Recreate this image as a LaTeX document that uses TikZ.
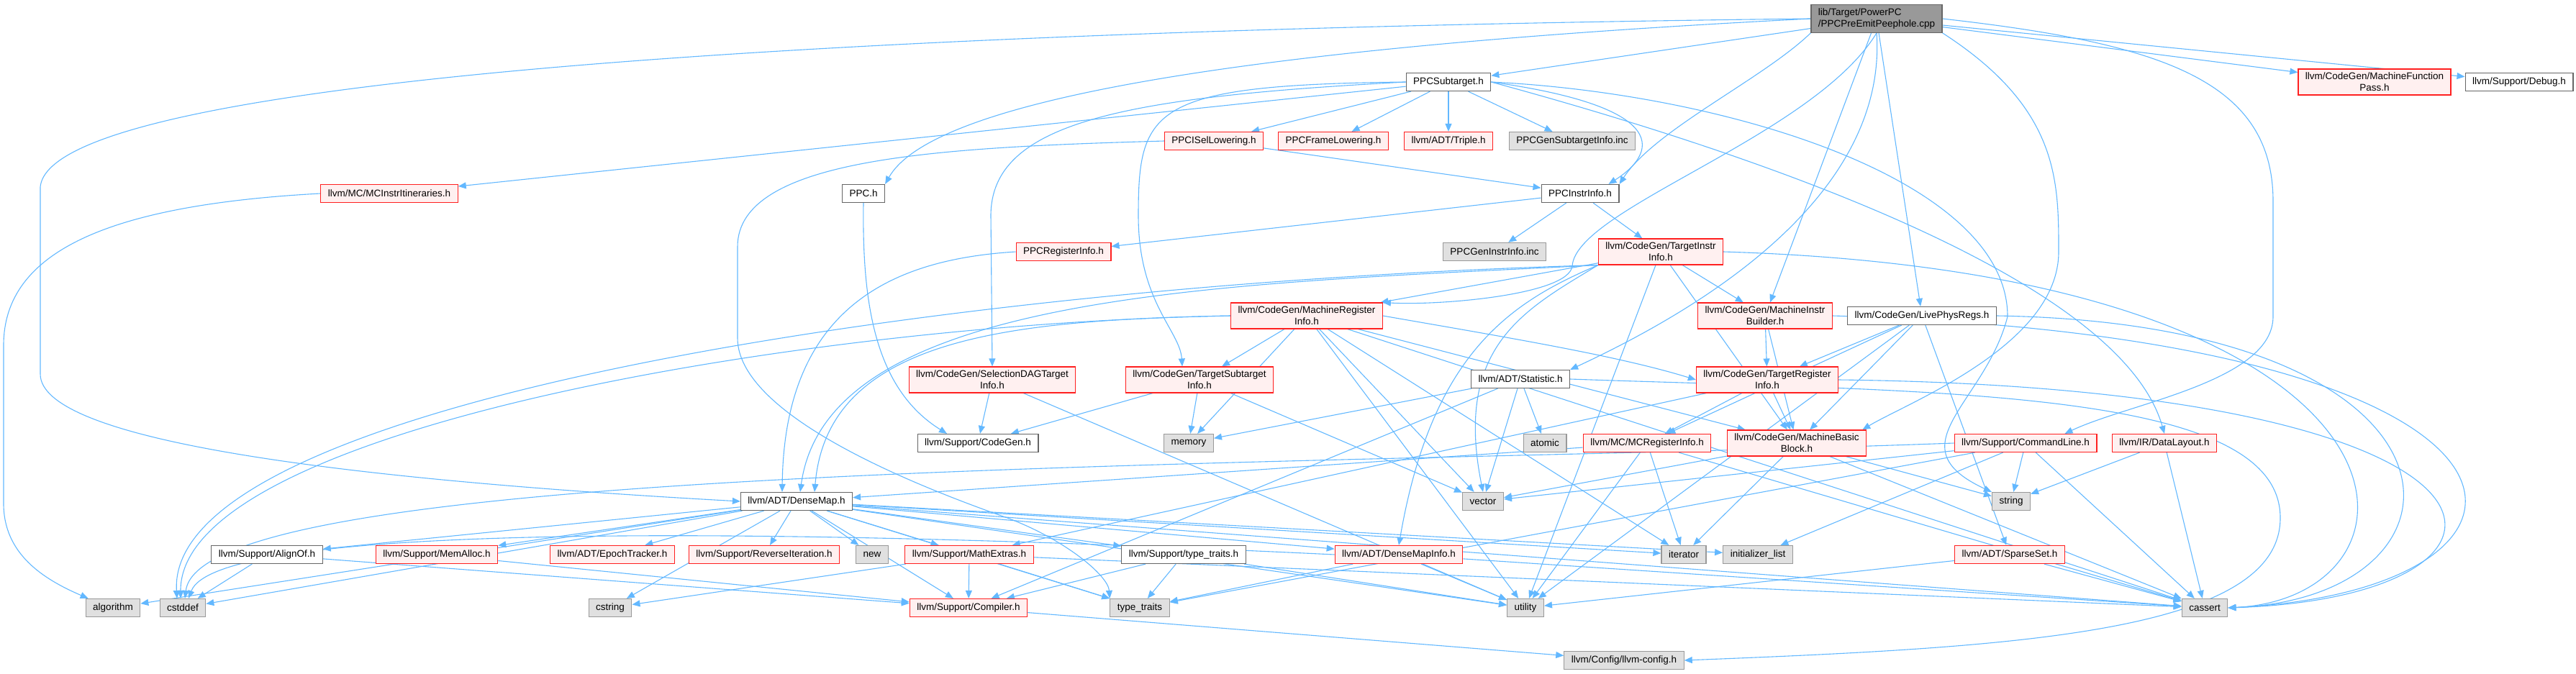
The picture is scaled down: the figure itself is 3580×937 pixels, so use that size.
\documentclass[tikz,border=0pt]{standalone}
\usepackage{fontspec}
\setmainfont{Liberation Sans}
\usepackage{xcolor}
\definecolor{depBlue}{HTML}{63B8FF}
\definecolor{cutRed}{HTML}{FF2020}
\definecolor{cutFill}{HTML}{FFF0F0}
\definecolor{sysFill}{HTML}{E0E0E0}
\definecolor{sysBorder}{HTML}{999999}
\definecolor{fileBorder}{HTML}{666666}
\definecolor{rootFill}{HTML}{999999}
\usetikzlibrary{arrows.meta,backgrounds}
\tikzset{
  >={Triangle[length=11pt,width=9pt]},
  every picture/.append style={font=\fontsize{13.5}{16}\selectfont},
  file/.style={rectangle,draw=fileBorder,fill=white,line width=1.2pt,inner xsep=10pt,inner ysep=5pt,minimum height=25pt,align=center},
  cutfile/.style={file,draw=cutRed,fill=cutFill},
  sysfile/.style={file,draw=sysBorder,fill=sysFill},
  rootfile/.style={file,fill=rootFill,align=left},
  dep/.style={->,draw=depBlue,line width=1.1pt},
}

\begin{document}
\begin{tikzpicture}[x=1pt,y=1pt]
  \useasboundingbox (0,0) rectangle (3580,-937);

  \node[rootfile] (peephole) at (2608,-26) {lib/Target/PowerPC\\/PPCPreEmitPeephole.cpp};

  \node[file]    (subtarget) at (2013,-114) {PPCSubtarget.h};
  \node[cutfile] (mfpass)    at (3300,-114) {llvm/CodeGen/MachineFunction\\Pass.h};
  \node[file]    (debug)     at (3501,-114) {llvm/Support/Debug.h};

  \node[cutfile] (isel)      at (1687,-196) {PPCISelLowering.h};
  \node[cutfile] (framelow)  at (1853,-196) {PPCFrameLowering.h};
  \node[cutfile] (triple)    at (2013,-196) {llvm/ADT/Triple.h};
  \node[sysfile] (gensub)    at (2185,-196) {PPCGenSubtargetInfo.inc};

  \node[cutfile] (itin)      at (541,-269)  {llvm/MC/MCInstrItineraries.h};
  \node[file]    (ppc)       at (1200,-269) {PPC.h};
  \node[file]    (instrinfo) at (2196,-269) {PPCInstrInfo.h};

  \node[cutfile] (reginfo)   at (1478,-350) {PPCRegisterInfo.h};
  \node[sysfile] (geninstr)  at (2077,-350) {PPCGenInstrInfo.inc};
  \node[cutfile] (tii)       at (2308,-350) {llvm/CodeGen/TargetInstr\\Info.h};

  \node[cutfile] (mri)       at (1816,-439) {llvm/CodeGen/MachineRegister\\Info.h};
  \node[cutfile] (mib)       at (2453,-439) {llvm/CodeGen/MachineInstr\\Builder.h};
  \node[file]    (livephys)  at (2671,-439) {llvm/CodeGen/LivePhysRegs.h};

  \node[cutfile] (sdag)      at (1379,-528) {llvm/CodeGen/SelectionDAGTarget\\Info.h};
  \node[cutfile] (tsi)       at (1667,-528) {llvm/CodeGen/TargetSubtarget\\Info.h};
  \node[file]    (statistic) at (2113,-527) {llvm/ADT/Statistic.h};
  \node[cutfile] (tri)       at (2456,-528) {llvm/CodeGen/TargetRegister\\Info.h};

  \node[file]    (codegen)   at (1359,-616) {llvm/Support/CodeGen.h};
  \node[sysfile] (memory)    at (1652,-616) {memory};
  \node[sysfile] (atomic)    at (2147,-616) {atomic};
  \node[cutfile] (mcreg)     at (2289,-616) {llvm/MC/MCRegisterInfo.h};
  \node[cutfile] (mbb)       at (2497,-616) {llvm/CodeGen/MachineBasic\\Block.h};
  \node[cutfile] (cmdline)   at (2815,-616) {llvm/Support/CommandLine.h};
  \node[cutfile] (datalayout) at (3008,-616) {llvm/IR/DataLayout.h};

  \node[file]    (densemap)  at (1107,-697) {llvm/ADT/DenseMap.h};
  \node[sysfile] (vector)    at (2061,-697) {vector};
  \node[sysfile] (string)    at (2795,-697) {string};

  \node[file]    (alignof)   at (371,-771)  {llvm/Support/AlignOf.h};
  \node[cutfile] (memalloc)  at (607,-771)  {llvm/Support/MemAlloc.h};
  \node[cutfile] (epoch)     at (851,-771)  {llvm/ADT/EpochTracker.h};
  \node[cutfile] (reviter)   at (1062,-771) {llvm/Support/ReverseIteration.h};
  \node[sysfile] (new)       at (1212,-771) {new};
  \node[cutfile] (mathext)   at (1347,-771) {llvm/Support/MathExtras.h};
  \node[file]    (typetr)    at (1645,-771) {llvm/Support/type\_traits.h};
  \node[cutfile] (dmi)       at (1944,-771) {llvm/ADT/DenseMapInfo.h};
  \node[sysfile] (iterator)  at (2340,-771) {iterator};
  \node[sysfile] (initlist)  at (2443,-771) {initializer\_list};
  \node[cutfile] (sparseset) at (2793,-771) {llvm/ADT/SparseSet.h};

  \node[sysfile] (algorithm) at (157,-845)  {algorithm};
  \node[sysfile] (cstddef)   at (254,-845)  {cstddef};
  \node[sysfile] (cstring)   at (848,-845)  {cstring};
  \node[cutfile] (compiler)  at (1346,-845) {llvm/Support/Compiler.h};
  \node[sysfile] (stdtraits) at (1584,-845) {type\_traits};
  \node[sysfile] (utility)   at (2120,-845) {utility};
  \node[sysfile] (cassert)   at (3064,-845) {cassert};

  \node[sysfile] (config)    at (2257,-918) {llvm/Config/llvm-config.h};

  \begin{scope}[on background layer]
    \foreach \a/\b in {peephole/subtarget, peephole/livephys, peephole/mib, peephole/mfpass, peephole/debug,
        subtarget/itin, subtarget/isel, subtarget/framelow, subtarget/triple, subtarget/gensub,
        isel/instrinfo, instrinfo/reginfo, instrinfo/geninstr, instrinfo/tii,
        tii/mri, tii/mib, tii/mbb, tii/utility,
        mri/mbb, mri/tsi, mri/memory, mri/vector, mri/utility, mri/iterator, mri/cassert,
        mib/mbb, mib/tri,
        livephys/mbb, livephys/tri, livephys/mcreg, livephys/sparseset, livephys/utility,
        tri/mbb, tri/mcreg, tri/mathext,
        mbb/iterator, mbb/string, mbb/vector, mbb/cassert,
        mcreg/densemap, mcreg/iterator, mcreg/utility, mcreg/cassert,
        cmdline/string, cmdline/vector, cmdline/initlist, cmdline/cassert, cmdline/stdtraits,
        datalayout/string, datalayout/cassert, sparseset/utility, sparseset/cassert,
        statistic/atomic, statistic/memory, statistic/vector, statistic/compiler,
        sdag/codegen, sdag/utility, tsi/codegen, tsi/memory, tsi/vector,
        densemap/alignof, densemap/memalloc, densemap/epoch, densemap/reviter, densemap/new,
        densemap/mathext, densemap/typetr, densemap/dmi, densemap/iterator, densemap/initlist,
        densemap/algorithm, densemap/cstddef, densemap/cstring, densemap/compiler,
        densemap/stdtraits, densemap/utility, densemap/cassert,
        dmi/cassert, dmi/stdtraits, dmi/utility,
        alignof/cstddef, alignof/compiler, memalloc/compiler,
        mathext/compiler, mathext/stdtraits, mathext/cstring, mathext/cassert,
        typetr/stdtraits, typetr/utility, typetr/compiler, compiler/config}
      \draw[dep] (\a) -- (\b);

    % routed edges
    \draw[dep] (peephole.west) .. controls (1300,-40) and (70,-100) .. (56,-260)
      -- (56,-520) .. controls (56,-610) and (450,-665) .. (densemap.west);
    \draw[dep] (peephole.west) .. controls (1650,-70) and (1290,-150) .. (ppc.north east);
    \draw[dep] (peephole.south west) .. controls (2450,-110) and (2300,-180) .. (instrinfo.north east);
    \draw[dep] (peephole.south) .. controls (2520,-190) and (2190,-290) .. (2185,-370)
      .. controls (2180,-410) and (2000,-425) .. (mri.north east);
    \draw[dep] (peephole.south) .. controls (2620,-220) and (2470,-380) .. (statistic.north east);
    \draw[dep] (peephole.south east) .. controls (2861,-150) and (2861,-250) .. (2861,-350)
      .. controls (2861,-480) and (2650,-560) .. ([xshift=-6pt]mbb.north east);
    \draw[dep] (peephole.east) .. controls (3000,-60) and (3159,-110) .. (3159,-280)
      -- (3159,-440) .. controls (3159,-530) and (2960,-560) .. ([xshift=-45pt]cmdline.north east);

    \draw[dep] (subtarget.east) .. controls (2330,-150) and (2300,-215) .. ([xshift=-15pt]instrinfo.north east);
    \draw[dep] (subtarget.west) .. controls (1560,-135) and (1377,-170) .. (1377,-300) -- (sdag.north);
    \draw[dep] (subtarget.west) .. controls (1600,-118) and (1582,-150) .. (1582,-300)
      .. controls (1582,-420) and (1640,-460) .. ([xshift=-24pt]tsi.north);
    \draw[dep] (subtarget.east) .. controls (2500,-230) and (2950,-400) .. (datalayout.north);
    \draw[dep] (subtarget.east) .. controls (2400,-130) and (2790,-250) .. (2790,-440)
      .. controls (2760,-560) and (2630,-620) .. (string.north west);

    \draw[dep] (itin.west) .. controls (150,-285) and (5,-350) .. (5,-480)
      -- (5,-700) .. controls (5,-770) and (60,-805) .. ([xshift=4pt]algorithm.north west);
    \draw[dep] (ppc.south) .. controls (1198,-420) and (1215,-540) .. ([xshift=-43pt]codegen.north);
    \draw[dep] (isel.west) .. controls (1300,-205) and (1025,-220) .. (1025,-343) -- (1025,-470)
      .. controls (1025,-560) and (1200,-650) .. (1400,-720)
      .. controls (1480,-750) and (1540,-800) .. (stdtraits.north west);
    \draw[dep] (reginfo.west) .. controls (1250,-360) and (1090,-420) .. ([xshift=-20pt]densemap.north);
    \draw[dep] (tii.south west) .. controls (1700,-395) and (1150,-405) .. ([xshift=5pt]densemap.north);
    \draw[dep] (mri.west) .. controls (1400,-445) and (1150,-470) .. ([xshift=25pt]densemap.north);
    \draw[dep] (mri.east) .. controls (2100,-470) and (2250,-495) .. (tri.west);
    \draw[dep] (tii.south west) .. controls (2120,-430) and (2020,-480) .. (vector.north);
    \draw[dep] (tii.south west) .. controls (2100,-420) and (1990,-490) .. (dmi.north);
    \draw[dep] (statistic.east) .. controls (2700,-545) and (3169,-540) .. (3169,-720)
      .. controls (3169,-880) and (2800,-900) .. (config.east);

    \draw[dep] (mib.east) .. controls (3600,-470) and (3600,-820) .. (cassert.east);
    \draw[dep] (tri.east) .. controls (3560,-540) and (3560,-830) .. (cassert.east);
    \draw[dep] (livephys.east) .. controls (3460,-450) and (3460,-830) .. (cassert.east);
    \draw[dep] (tii.east) .. controls (3400,-380) and (3400,-830) .. (cassert.east);

    \draw[dep] (tii.south west) .. controls (1300,-395) and (230,-560) .. ([xshift=-8pt]cstddef.north);
    \draw[dep] (mri.west) .. controls (1100,-450) and (250,-600) .. ([xshift=-3pt]cstddef.north);
    \draw[dep] (cmdline.west) .. controls (1800,-650) and (280,-640) .. ([xshift=3pt]cstddef.north);
    \draw[dep] (dmi.west) .. controls (1000,-730) and (300,-730) .. ([xshift=8pt]cstddef.north);
  \end{scope}
\end{tikzpicture}
\end{document}
